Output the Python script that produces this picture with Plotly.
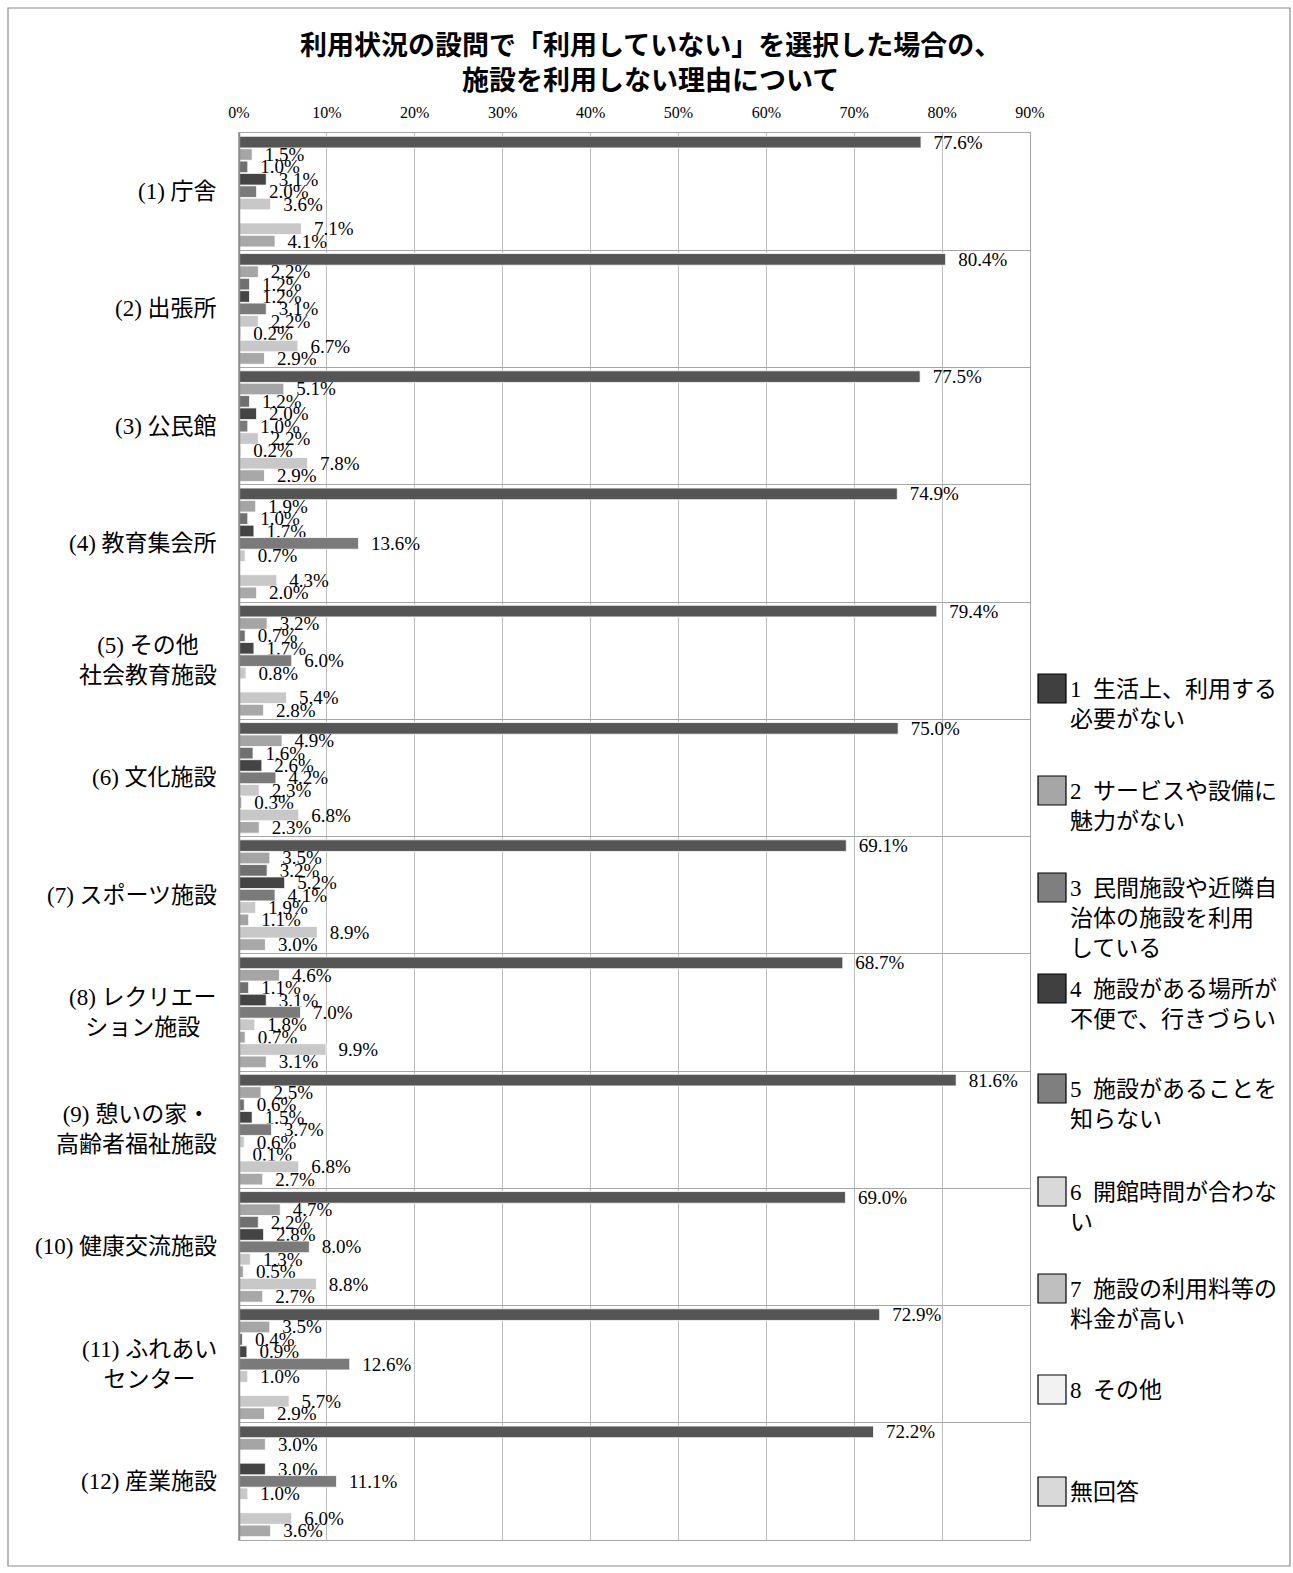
import plotly.graph_objects as go

# ---- data -------------------------------------------------------------
categories = [
    "(1) 庁舎", "(2) 出張所", "(3) 公民館", "(4) 教育集会所",
    "(5) その他<br>社会教育施設", "(6) 文化施設", "(7) スポーツ施設",
    "(8) レクリエー<br>ション施設", "(9) 憩いの家・<br>高齢者福祉施設",
    "(10) 健康交流施設", "(11) ふれあい<br>センター", "(12) 産業施設",
]

series_names = [
    "1  生活上、利用する<br>必要がない",
    "2  サービスや設備に<br>魅力がない",
    "3  民間施設や近隣自<br>治体の施設を利用<br>している",
    "4  施設がある場所が<br>不便で、行きづらい",
    "5  施設があることを<br>知らない",
    "6  開館時間が合わな<br>い",
    "7  施設の利用料等の<br>料金が高い",
    "8  その他",
    "無回答",
]

reason1 = [77.6, 80.4, 77.5, 74.9, 79.4, 75.0, 69.1, 68.7, 81.6, 69.0, 72.9, 72.2]
reason2 = [1.5, 2.2, 5.1, 1.9, 3.2, 4.9, 3.5, 4.6, 2.5, 4.7, 3.5, 3.0]
reason3 = [1.0, 1.2, 1.2, 1.0, 0.7, 1.6, 3.2, 1.1, 0.6, 2.2, 0.4, 0.0]
reason4 = [3.1, 1.2, 2.0, 1.7, 1.7, 2.6, 5.2, 3.1, 1.5, 2.8, 0.9, 3.0]
reason5 = [2.0, 3.1, 1.0, 13.6, 6.0, 4.2, 4.1, 7.0, 3.7, 8.0, 12.6, 11.1]
reason6 = [3.6, 2.2, 2.2, 0.7, 0.8, 2.3, 1.9, 1.8, 0.6, 1.3, 1.0, 1.0]
reason7 = [0.0, 0.2, 0.2, 0.0, 0.0, 0.3, 1.1, 0.7, 0.1, 0.5, 0.0, 0.0]
reason8 = [7.1, 6.7, 7.8, 4.3, 5.4, 6.8, 8.9, 9.9, 6.8, 8.8, 5.7, 6.0]
no_answer = [4.1, 2.9, 2.9, 2.0, 2.8, 2.3, 3.0, 3.1, 2.7, 2.7, 2.9, 3.6]

series_values = [reason1, reason2, reason3, reason4, reason5,
                 reason6, reason7, reason8, no_answer]

x_ticks = [0, 10, 20, 30, 40, 50, 60, 70, 80, 90]
x_tick_labels = [f"{v}%" for v in x_ticks]

# ---- styling ----------------------------------------------------------
bar_colors = ["#555555", "#a5a5a5", "#707070", "#444444", "#7a7a7a",
              "#c8c8c8", "#a3a3a3", "#c8c8c8", "#a8a8a8"]
swatch_colors = ["#404040", "#a6a6a6", "#7f7f7f", "#404040", "#7f7f7f",
                 "#d9d9d9", "#bfbfbf", "#f2f2f2", "#d9d9d9"]
FONT = "Liberation Serif, Noto Sans CJK JP, serif"

W, H = 1293, 1573
PL, PR, PT, PB = 239, 1030, 133, 1540   # plot area in pixels


def px_x(px):
    return (px - PL) / (PR - PL)


def px_y(py):
    return (PB - py) / (PB - PT)


ypos = list(range(len(categories)))

fig = go.Figure()
for name, vals, col in zip(series_names, series_values, bar_colors):
    fig.add_trace(go.Bar(
        x=vals, y=ypos, orientation="h", name=name,
        marker=dict(color=col, line=dict(color="#ffffff", width=0.8)),
        text=[f"  {v:.1f}%" if v > 0 else "" for v in vals],
        textposition="outside", constraintext="none", cliponaxis=False,
        textfont=dict(family=FONT, size=19, color="#000000"),
        showlegend=False, hoverinfo="x+name",
    ))

annotations = []
# chart title
annotations.append(dict(
    x=px_x(650), xref="paper", y=px_y(63), yref="paper",
    xanchor="center", yanchor="middle", align="center", showarrow=False,
    text="<b>利用状況の設問で「利用していない」を選択した場合の、<br>施設を利用しない理由について</b>",
    font=dict(family=FONT, size=27, color="#000000"),
))
# category labels to the left of the plot
for i, cat in enumerate(categories):
    annotations.append(dict(
        x=px_x(219), xref="paper", y=i, yref="y", xanchor="right",
        yanchor="middle", align="center", showarrow=False, text=cat,
        font=dict(family=FONT, size=23, color="#000000"),
    ))

shapes = []
# legend drawn as swatches and text blocks on the right
legend_tops = [674, 776, 873, 974, 1074, 1177, 1274, 1375, 1477]
for name, col, top in zip(series_names, swatch_colors, legend_tops):
    shapes.append(dict(
        type="rect", xref="paper", yref="paper",
        x0=px_x(1038), x1=px_x(1066), y0=px_y(top + 29), y1=px_y(top),
        fillcolor=col, line=dict(color="#000000", width=1.2),
    ))
    annotations.append(dict(
        x=px_x(1068), xref="paper", y=px_y(top + 1), yref="paper",
        xanchor="left", yanchor="top", align="left", showarrow=False,
        text=name, font=dict(family=FONT, size=23, color="#000000"),
    ))

# heavier axis line at 0%
shapes.append(dict(type="line", xref="x", yref="paper", x0=0, x1=0, y0=0, y1=1,
                   line=dict(color="#8c8c8c", width=2.5)))
# outer frame
shapes.append(dict(type="rect", xref="paper", yref="paper",
                   x0=px_x(8), x1=px_x(1290), y0=px_y(1566), y1=px_y(8),
                   line=dict(color="#8c8c8c", width=1.2), layer="below"))

fig.update_layout(
    width=W, height=H,
    margin=dict(l=PL, r=W - PR, t=PT, b=H - PB),
    paper_bgcolor="#ffffff", plot_bgcolor="#ffffff",
    barmode="group", bargap=0.05, bargroupgap=0.06,
    xaxis=dict(
        side="top", range=[0, 90], tickvals=x_ticks, ticktext=x_tick_labels,
        showgrid=True, gridcolor="#bdbdbd", gridwidth=1, zeroline=False,
        showline=True, mirror=True, linecolor="#a6a6a6", linewidth=1,
        ticks="", ticklabelstandoff=8,
        tickfont=dict(family=FONT, size=16, color="#000000"),
    ),
    yaxis=dict(
        range=[len(categories) - 0.5, -0.5],
        tickvals=[i + 0.5 for i in range(len(categories) - 1)],
        showticklabels=False, ticks="", showgrid=True, gridcolor="#a6a6a6",
        gridwidth=1, zeroline=False, showline=True, mirror=True,
        linecolor="#a6a6a6", linewidth=1,
    ),
    annotations=annotations, shapes=shapes, showlegend=False,
)

fig.write_html("out.html")
